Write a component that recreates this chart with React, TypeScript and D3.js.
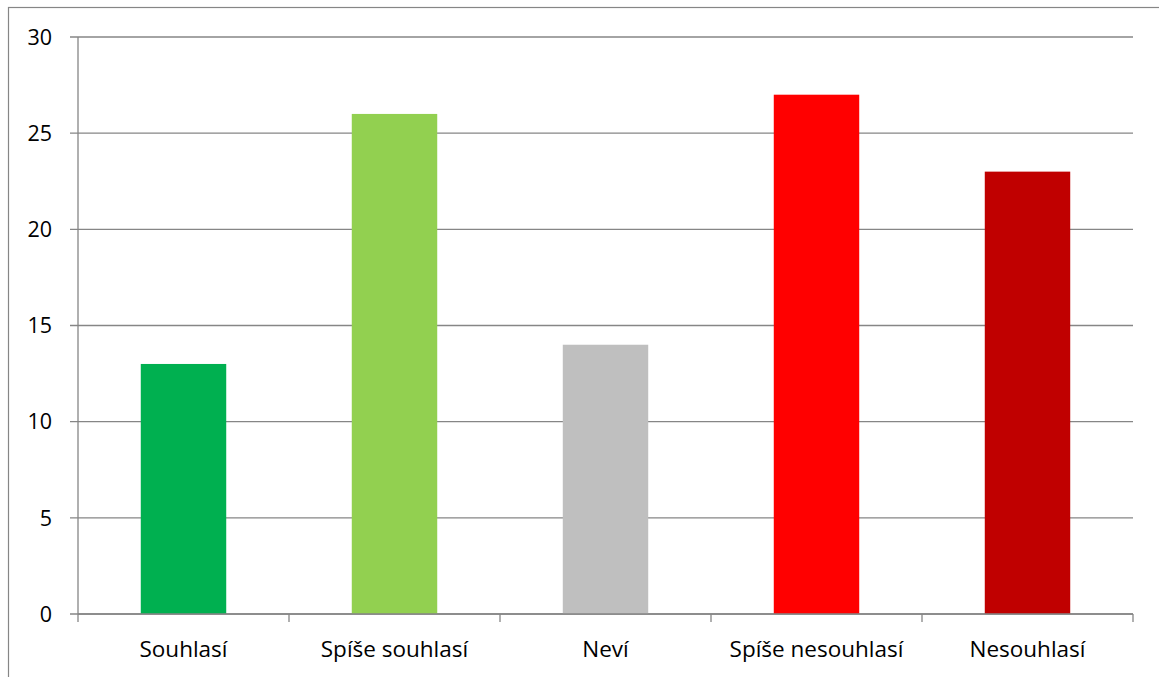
import React from "react";
import * as d3 from "d3";

const categories = ["Souhlasí", "Spíše souhlasí", "Neví", "Spíše nesouhlasí", "Nesouhlasí"];
const values = [13, 26, 14, 27, 23];
const colors = ["#00B050", "#92D050", "#BFBFBF", "#FF0000", "#C00000"];
const yTicks = [0, 5, 10, 15, 20, 25, 30];

export default function App() {
  const W = 1159, H = 677;
  const left = 78, right = 1133, top = 37, bottom = 614;
  const x = d3.scaleBand<string>().domain(categories).range([left, right]).paddingInner(0).paddingOuter(0);
  const y = d3.scaleLinear().domain([0, 30]).range([bottom, top]);
  const bw = x.bandwidth() * 0.405;
  const font = "'Open Sans', sans-serif";
  return (
    <svg width={W} height={H} style={{ position: "absolute", left: 0, top: 0 }}>
      <rect x={0} y={0} width={W} height={H} fill="#fff" />
      <rect x={8.5} y={7.5} width={W + 20} height={H + 20} fill="none" stroke="#868686" strokeWidth={1.2} />
      {yTicks.map((t) => (
        <g key={t}>
          <line x1={left - 8} x2={right} y1={y(t)} y2={y(t)} stroke="#868686" strokeWidth={1.3} />
          <text x={52} y={y(t)} dy="0.36em" textAnchor="end" fontFamily={font} fontSize={21.5} fill="#000">{t}</text>
        </g>
      ))}
      {categories.map((c, i) => (
        <rect key={c} x={x(c)! + (x.bandwidth() - bw) / 2} y={y(values[i])} width={bw} height={y(0) - y(values[i])} fill={colors[i]} />
      ))}
      <line x1={left} x2={left} y1={top} y2={bottom} stroke="#868686" strokeWidth={1.3} />
      <line x1={left} x2={right} y1={bottom} y2={bottom} stroke="#868686" strokeWidth={1.3} />
      {[...categories.map((c) => x(c)!), right].map((px, i) => (
        <line key={i} x1={px} x2={px} y1={bottom} y2={bottom + 8} stroke="#868686" strokeWidth={1.3} />
      ))}
      {categories.map((c) => (
        <text key={c} x={x(c)! + x.bandwidth() / 2} y={657} textAnchor="middle" fontFamily={font} fontSize={22.5} fill="#000">{c}</text>
      ))}
    </svg>
  );
}
